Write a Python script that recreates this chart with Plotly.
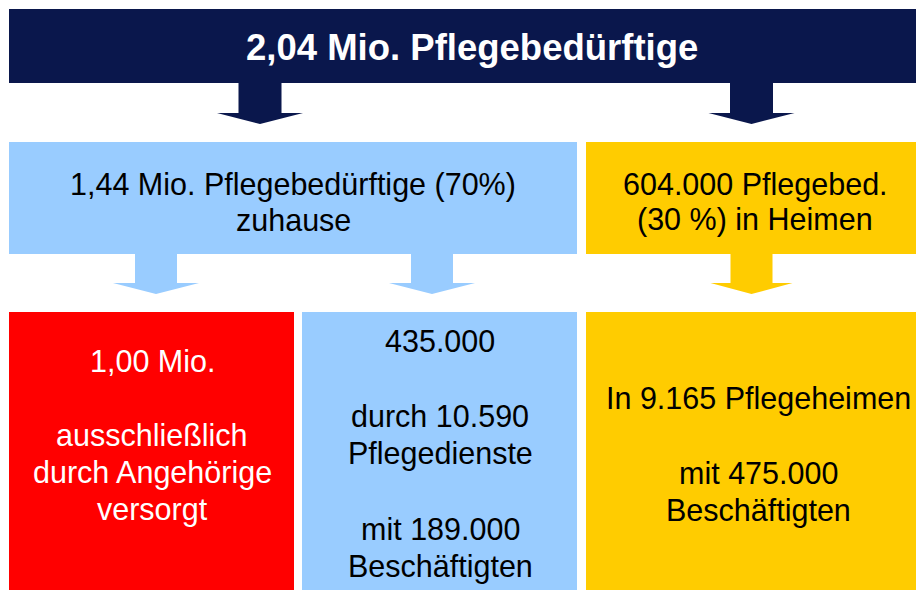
import plotly.graph_objects as go

# ---- content ----
title_text = "2,04 Mio. Pflegebedürftige"
home_text = ["1,44 Mio. Pflegebedürftige (70%)", "zuhause"]
heim_text = ["604.000 Pflegebed.", "(30 %) in Heimen"]
relatives_text = ["1,00 Mio.", "", "ausschließlich", "durch Angehörige", "versorgt"]
services_text = ["435.000", "", "durch 10.590", "Pflegedienste", "", "mit 189.000", "Beschäftigten"]
homes_text = ["In 9.165 Pflegeheimen", "", "mit 475.000", "Beschäftigten"]

# ---- styling / layout ----
W, H = 924, 590
OFF = 8  # page body margin compensation
NAVY = "#0a174c"
LBLUE = "#99ccff"
YELLOW = "#ffcc00"
RED = "#ff0000"
FONT = "Liberation Sans, Arial, sans-serif"

fig = go.Figure()

boxes = [
    (9, 9, 940, 83, NAVY),
    (9, 142, 577, 254, LBLUE),
    (586, 142, 940, 254, YELLOW),
    (9, 312, 294, 610, RED),
    (302, 312, 577, 610, LBLUE),
    (586, 312, 940, 610, YELLOW),
]
shapes = []
for x0, y0, x1, y1, c in boxes:
    shapes.append(dict(type="rect", x0=x0 - OFF, y0=y0 - OFF, x1=x1 - OFF, y1=y1 - OFF,
                       fillcolor=c, line=dict(width=0), layer="below"))


def arrow(cx, top, head_y, tip_y, shaft_half, head_half, color):
    cx -= OFF
    top -= OFF
    head_y -= OFF
    tip_y -= OFF
    p = (f"M {cx-shaft_half},{top} L {cx+shaft_half},{top} L {cx+shaft_half},{head_y} "
         f"L {cx+head_half},{head_y} L {cx},{tip_y} L {cx-head_half},{head_y} "
         f"L {cx-shaft_half},{head_y} Z")
    return dict(type="path", path=p, fillcolor=color, line=dict(width=0), layer="below")


shapes.append(arrow(260, 83, 113, 124, 21.5, 43, NAVY))
shapes.append(arrow(751.5, 83, 113, 124, 21.5, 43, NAVY))
shapes.append(arrow(156, 254, 283, 294, 21, 43, LBLUE))
shapes.append(arrow(432, 254, 283, 294, 21, 43, LBLUE))
shapes.append(arrow(751.5, 254, 283, 294, 21, 41, YELLOW))

annotations = []


def add_lines(lines, cx, y_first, spacing, color, size, bold=False):
    for i, t in enumerate(lines):
        if not t:
            continue
        txt = f"<b>{t}</b>" if bold else t
        annotations.append(dict(x=cx - OFF, y=y_first + i * spacing - OFF, text=txt,
                                showarrow=False, xanchor="center", yanchor="middle",
                                font=dict(family=FONT, size=size, color=color)))


add_lines([title_text], 472, 47, 0, "white", 36.5, bold=True)
add_lines(home_text, 293, 184, 35.5, "black", 30.5)
add_lines(heim_text, 755, 184, 35.5, "black", 30.5)
add_lines(relatives_text, 152, 361, 37, "white", 30.5)
add_lines(services_text, 440, 341, 37.5, "black", 30.5)
add_lines(homes_text, 758, 398, 37.5, "black", 30.5)

fig.update_layout(
    width=W, height=H, margin=dict(l=0, r=0, t=0, b=0),
    paper_bgcolor="white", plot_bgcolor="white",
    xaxis=dict(range=[0, W], visible=False, fixedrange=True),
    yaxis=dict(range=[H, 0], visible=False, fixedrange=True),
    shapes=shapes, annotations=annotations, showlegend=False,
)

fig.write_html("out.html")
